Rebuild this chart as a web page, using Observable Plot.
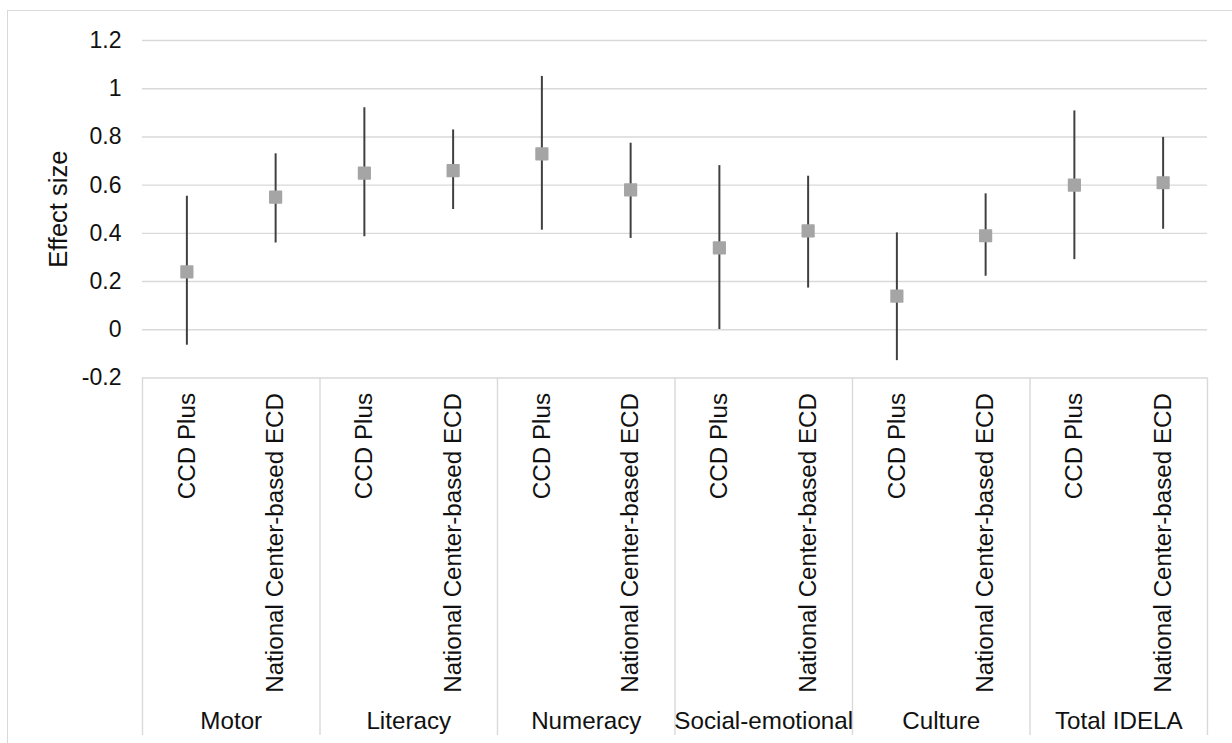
<!DOCTYPE html>
<html>
<head>
<meta charset="utf-8">
<script src="https://cdn.jsdelivr.net/npm/d3@7"></script>
<script src="https://cdn.jsdelivr.net/npm/@observablehq/plot@0.6"></script>
<style>
  html, body { margin: 0; padding: 0; background: #fff; overflow: hidden; }
  #wrap { position: relative; width: 1232px; height: 743px; }
  #border { position: absolute; left: 7px; top: 10px; width: 1300px; height: 800px;
            border: 1.3px solid #d9d9d9; box-sizing: border-box; z-index: 0; }
  #chart { position: absolute; left: 0; top: 0; z-index: 1; }
</style>
</head>
<body>
<div id="wrap"><div id="border"></div><div id="chart"></div></div>
<script>
// ---- data ----
const groups = ["Motor", "Literacy", "Numeracy", "Social-emotional", "Culture", "Total IDELA"];
const programs = ["CCD Plus", "National Center-based ECD"];
const ccdEstimate = [0.24, 0.65, 0.73, 0.34, 0.14, 0.60];
const ccdLower    = [-0.064, 0.386, 0.413, 0.001, -0.128, 0.291];
const ccdUpper    = [0.554, 0.921, 1.051, 0.681, 0.402, 0.908];
const natEstimate = [0.55, 0.66, 0.58, 0.41, 0.39, 0.61];
const natLower    = [0.36, 0.499, 0.379, 0.173, 0.222, 0.417];
const natUpper    = [0.73, 0.829, 0.774, 0.637, 0.564, 0.798];
const yTicks = [-0.2, 0, 0.2, 0.4, 0.6, 0.8, 1, 1.2];
const yTitle = "Effect size";

// ---- table ----
const rows = [];
groups.forEach((g, gi) => {
  const est = [ccdEstimate[gi], natEstimate[gi]];
  const lo = [ccdLower[gi], natLower[gi]];
  const hi = [ccdUpper[gi], natUpper[gi]];
  programs.forEach((p, pi) => {
    rows.push({group: g, program: p, pos: gi * 2 + pi + 0.5, est: est[pi], lo: lo[pi], hi: hi[pi]});
  });
});
const groupRows = groups.map((g, gi) => ({group: g, pos: gi * 2 + 1}));
const edges = d3.range(groups.length + 1).map(i => i * 2);

const W = 1232, H = 743;
const mT = 40, mB = 365.5, mL = 142, mR = 25;
const frameH = H - mT - mB;
const font = "'Liberation Sans', Arial, sans-serif";
const txt = "#111";

const fmt = d => { const v = Math.round(d * 10) / 10; return String(v === 0 ? 0 : v); };

const plot = Plot.plot({
  width: W, height: H,
  marginTop: mT, marginBottom: mB, marginLeft: mL, marginRight: mR,
  style: {fontFamily: font, background: "transparent", color: txt},
  x: {type: "linear", domain: [0, programs.length * groups.length], axis: null},
  y: {domain: [-0.2, 1.2], axis: null},
  marks: [
    Plot.ruleY(yTicks, {y: d => d, stroke: "#d9d9d9", strokeWidth: 1.4}),
    Plot.ruleX(edges, {x: d => d, stroke: "#d9d9d9", strokeWidth: 1.4,
                       insetTop: frameH, insetBottom: -(mB - 8)}),
    Plot.axisY(yTicks, {tickSize: 0, tickPadding: 21, fontSize: 23, tickFormat: fmt,
                        label: null, fill: txt}),
    Plot.text([yTitle], {text: d => d, frameAnchor: "left", rotate: -90, dx: -84,
                         fontSize: 25.5, textAnchor: "middle", lineAnchor: "middle", fill: txt}),
    Plot.ruleX(rows, {x: "pos", y1: "lo", y2: "hi", stroke: "#404040", strokeWidth: 2}),
    Plot.dot(rows, {x: "pos", y: "est", symbol: "square", r: 6.6, fill: "#a5a5a5",
                    stroke: "#a5a5a5", strokeWidth: 1.5, strokeLinejoin: "round"}),
    Plot.text(rows, {x: "pos", text: "program", frameAnchor: "bottom", rotate: -90,
                     textAnchor: "end", lineAnchor: "middle", dy: 15, fontSize: 24.2, fill: txt}),
    Plot.text(groupRows, {x: "pos", text: "group", frameAnchor: "bottom",
                          lineAnchor: "middle", dy: 342.8, fontSize: 24.2, fill: txt})
  ]
});
document.getElementById("chart").appendChild(plot);
</script>
</body>
</html>
